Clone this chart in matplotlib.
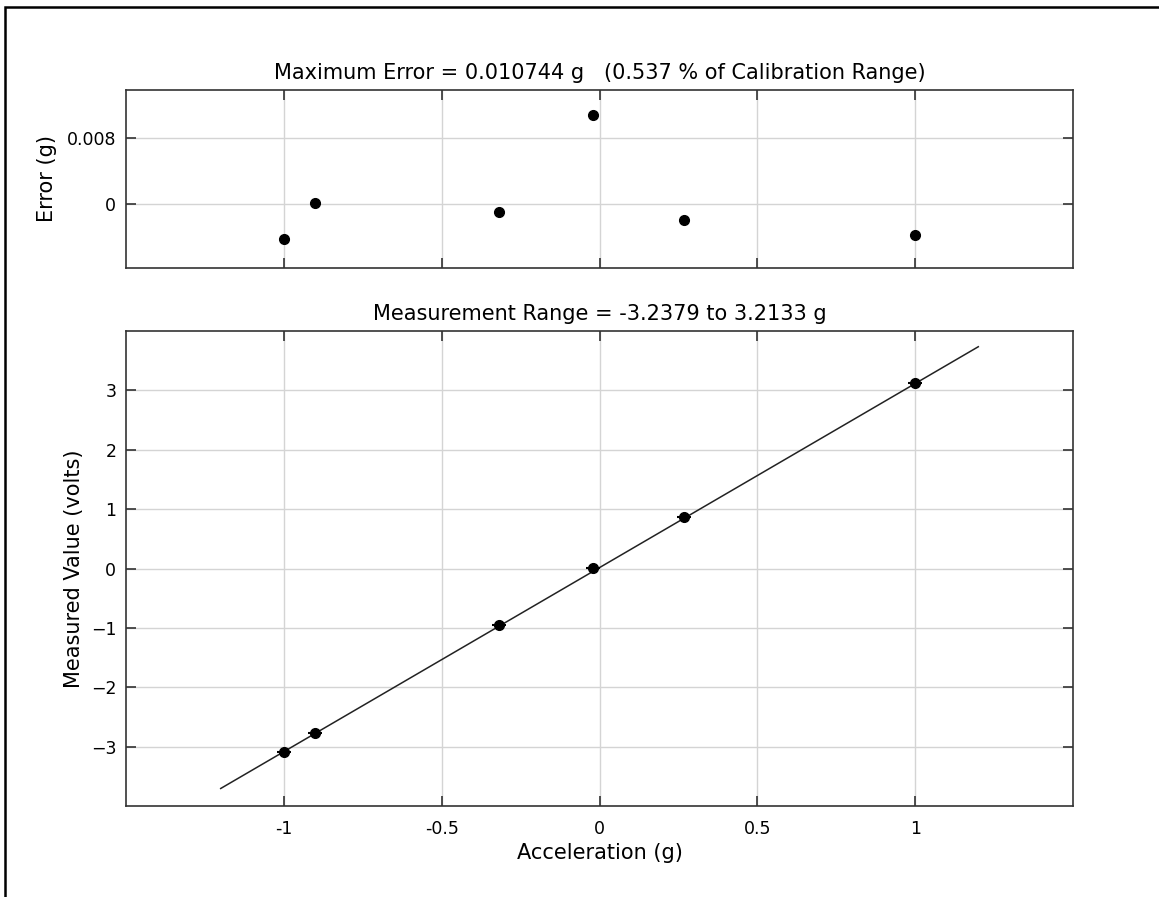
import matplotlib
matplotlib.use('Agg')
import matplotlib.pyplot as plt
from matplotlib.patches import Rectangle

# calibration points
accel = [-1.0, -0.9, -0.317, -0.022, 0.269, 1.0]          # applied acceleration (g)
measured = [-3.085, -2.766, -0.953, 0.002, 0.860, 3.120]  # measured value (volts)
accel_err = [0.022, 0.022, 0.022, 0.022, 0.022, 0.022]    # horizontal uncertainty (g)
error = [-0.00424, 0.0001, -0.00103, 0.010744, -0.00194, -0.00376]  # fit error (g)

# linear fit drawn across the range
fit_x = [-1.2, 1.2]
fit_slope = 3.10
fit_offset = 0.015
fit_y = [fit_slope * v + fit_offset for v in fit_x]

xticks = [-1, -0.5, 0, 0.5, 1]
xtick_labels = ['-1', '-0.5', '0', '0.5', '1']
err_ticks = [0, 0.008]
err_tick_labels = ['0', '0.008']
volt_ticks = [-3, -2, -1, 0, 1, 2, 3]

plt.rcParams['font.family'] = ['DejaVu Sans']

fig = plt.figure(figsize=(11.59, 8.97), dpi=100)
W, H = 1159, 897

# frame around the figure
fig.patches.append(Rectangle((4.5 / W, -0.1), 1.2, 1 - 7.5 / H + 0.1,
                             transform=fig.transFigure, fill=False,
                             edgecolor='black', linewidth=1.8))

ax1 = fig.add_axes([126 / W, 1 - 268 / H, (1073 - 126) / W, (268 - 90) / H])
ax2 = fig.add_axes([126 / W, 1 - 806 / H, (1073 - 126) / W, (806 - 331) / H])


def style(ax):
    ax.tick_params(direction='in', length=7, width=1.2, top=True, right=True,
                   labelsize=12.5, color='#333333')
    ax.tick_params(axis='y', pad=7)
    ax.grid(True, color='#d4d4d4', linewidth=1)
    ax.set_axisbelow(True)
    for s in ax.spines.values():
        s.set_color('#333333')
        s.set_linewidth(1.2)


# error plot
ax1.plot(accel, error, 'o', color='black', markersize=7)
ax1.set_xlim(-1.5, 1.5)
ax1.set_ylim(-0.00776, 0.01382)
ax1.set_xticks(xticks)
ax1.set_xticklabels([])
ax1.set_yticks(err_ticks)
ax1.set_yticklabels(err_tick_labels)
ax1.set_ylabel('Error (g)', fontsize=15, labelpad=7)
ax1.set_title('Maximum Error = 0.010744 g   (0.537 % of Calibration Range)',
              fontsize=15, pad=8)
style(ax1)

# calibration plot
ax2.plot(fit_x, fit_y, color='#222222', linewidth=1.1)
ax2.errorbar(accel, measured, xerr=accel_err, fmt='o', color='black',
             markersize=7, elinewidth=1.5, capsize=0)
ax2.set_xlim(-1.5, 1.5)
ax2.set_ylim(-4, 4)
ax2.set_xticks(xticks)
ax2.set_xticklabels(xtick_labels)
ax2.set_yticks(volt_ticks)
ax2.set_xlabel('Acceleration (g)', fontsize=15)
ax2.set_ylabel('Measured Value (volts)', fontsize=15, labelpad=5)
ax2.set_title('Measurement Range = -3.2379 to 3.2133 g', fontsize=15, pad=8)
style(ax2)
ax2.tick_params(axis='x', pad=10)

fig.savefig('out.png', dpi=100)
